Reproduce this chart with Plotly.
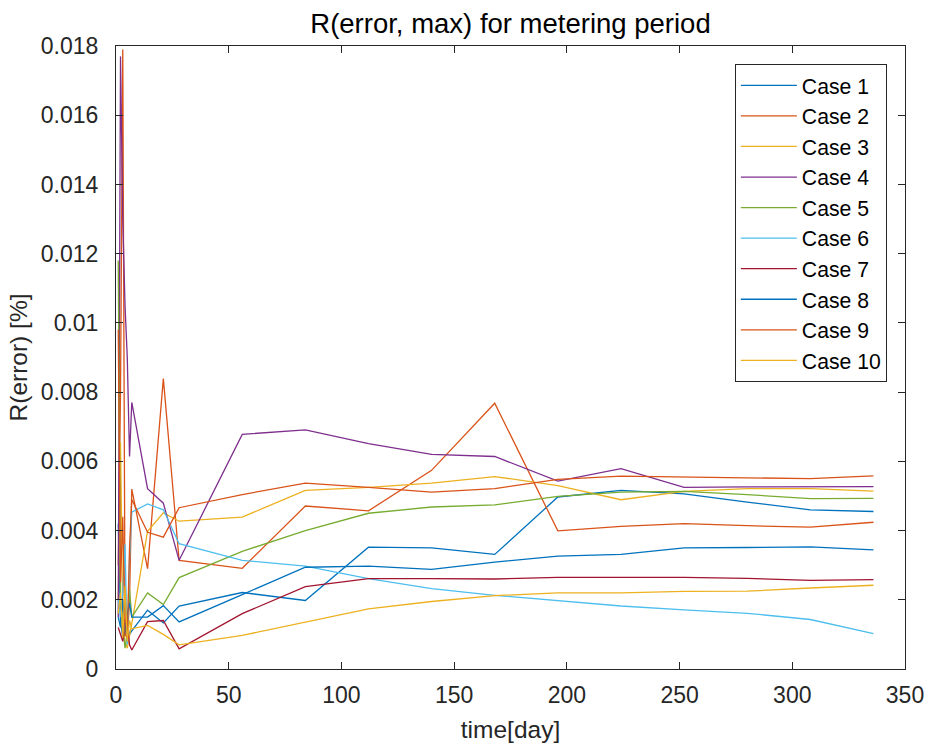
import plotly.graph_objects as go

# Sampling days of the metering period
days = [1, 2, 3, 4, 5, 6, 7, 14, 21, 28, 56, 84, 112, 140, 168, 196, 224, 252, 280, 308, 336]

# R(error) per case, in units of 0.001 %
case_1 = [4.2, 1.4, 0.9, 1.9, 1.3, 1.0, 1.1, 1.70, 1.33, 1.82, 2.21, 1.98, 3.52, 3.50, 3.31, 4.97, 5.16, 5.06, 4.82, 4.60, 4.55]
case_2 = [3.0, 8.0, 17.9, 1.5, 0.8, 2.0, 5.2, 2.90, 8.39, 3.14, 2.91, 4.71, 4.57, 5.74, 7.68, 3.99, 4.12, 4.20, 4.14, 4.10, 4.24]
case_3 = [2.0, 6.55, 1.5, 0.8, 0.6, 1.0, 1.31, 3.98, 4.51, 4.27, 4.39, 5.16, 5.25, 5.37, 5.56, 5.30, 4.89, 5.13, 5.21, 5.21, 5.14]
case_4 = [1.5, 17.7, 13.0, 10.5, 9.0, 6.14, 7.7, 5.21, 4.79, 3.14, 6.78, 6.91, 6.51, 6.20, 6.14, 5.43, 5.79, 5.25, 5.26, 5.26, 5.27]
case_5 = [11.8, 2.0, 1.2, 0.6, 1.0, 2.3, 1.5, 2.20, 1.86, 2.64, 3.40, 4.00, 4.50, 4.68, 4.74, 4.99, 5.11, 5.13, 5.04, 4.92, 4.93]
case_6 = [2.0, 1.5, 2.2, 3.6, 0.7, 3.2, 4.53, 4.77, 4.60, 3.62, 3.14, 2.97, 2.61, 2.32, 2.13, 1.98, 1.82, 1.71, 1.61, 1.43, 1.02]
case_7 = [1.2, 1.0, 0.8, 1.2, 1.3, 0.7, 0.55, 1.37, 1.40, 0.58, 1.60, 2.38, 2.61, 2.61, 2.60, 2.65, 2.65, 2.65, 2.62, 2.56, 2.58]
case_8 = [1.5, 1.2, 2.0, 1.0, 1.6, 1.9, 1.50, 1.50, 1.83, 1.36, 2.15, 2.94, 2.97, 2.88, 3.09, 3.26, 3.31, 3.50, 3.51, 3.53, 3.44]
case_9 = [9.8, 2.5, 4.4, 1.0, 0.9, 3.5, 4.9, 3.95, 3.81, 4.66, 5.04, 5.37, 5.25, 5.11, 5.21, 5.48, 5.57, 5.54, 5.53, 5.50, 5.58]
case_10 = [1.6, 2.2, 0.9, 2.4, 0.8, 1.4, 1.16, 1.26, 1.0, 0.70, 0.97, 1.35, 1.74, 1.95, 2.12, 2.20, 2.20, 2.24, 2.25, 2.34, 2.42]

case_names = ["Case 1", "Case 2", "Case 3", "Case 4", "Case 5",
              "Case 6", "Case 7", "Case 8", "Case 9", "Case 10"]
case_values = [case_1, case_2, case_3, case_4, case_5,
               case_6, case_7, case_8, case_9, case_10]

x_ticks = [0, 50, 100, 150, 200, 250, 300, 350]
y_ticks = [0, 0.002, 0.004, 0.006, 0.008, 0.01, 0.012, 0.014, 0.016, 0.018]
y_tick_labels = ["0", "0.002", "0.004", "0.006", "0.008", "0.01", "0.012", "0.014", "0.016", "0.018"]

# default 7-colour line order, cycling
palette = ["#0072BD", "#D95319", "#EDB120", "#7E2F8E", "#77AC30", "#4DBEEE", "#A2142F"]

FONT = "Liberation Sans, Arial, sans-serif"
INK = "#262626"

fig = go.Figure()
for i, (name, vals) in enumerate(zip(case_names, case_values)):
    fig.add_trace(go.Scatter(
        x=days,
        y=[v / 1000 for v in vals],
        mode="lines",
        name=name,
        line=dict(color=palette[i % len(palette)], width=1.3),
    ))

axis_common = dict(
    showline=True, linecolor=INK, linewidth=1, mirror="allticks",
    ticks="inside", ticklen=7, tickwidth=1, tickcolor=INK,
    showgrid=False, zeroline=False, automargin=False,
    tickfont=dict(family=FONT, size=23, color=INK),
)

fig.update_layout(
    width=927, height=748,
    margin=dict(l=116, r=22, t=46, b=79, pad=0),
    paper_bgcolor="white", plot_bgcolor="white",
    font=dict(family=FONT, color=INK),
    title=dict(text="R(error, max) for metering period", x=0.5, xanchor="center",
               xref="paper", y=0.982, yanchor="top",
               font=dict(family=FONT, size=27.5, color="black")),
    xaxis=dict(range=[0, 350], tickvals=x_ticks, ticktext=[str(t) for t in x_ticks],
               ticklabelstandoff=5,
               title=dict(text="time[day]", font=dict(family=FONT, size=24.5, color=INK), standoff=14),
               **axis_common),
    yaxis=dict(range=[0, 0.018], tickvals=y_ticks, ticktext=y_tick_labels,
               ticklabelstandoff=12,
               title=dict(text="R(error) [%]", font=dict(family=FONT, size=24.5, color=INK), standoff=6),
               **axis_common),
    legend=dict(x=0.977, y=0.971, xanchor="right", yanchor="top",
                bgcolor="white", bordercolor=INK, borderwidth=1,
                font=dict(family=FONT, size=21.2, color="black"),
                tracegroupgap=0, itemwidth=56),
)

fig.write_html("out.html")
